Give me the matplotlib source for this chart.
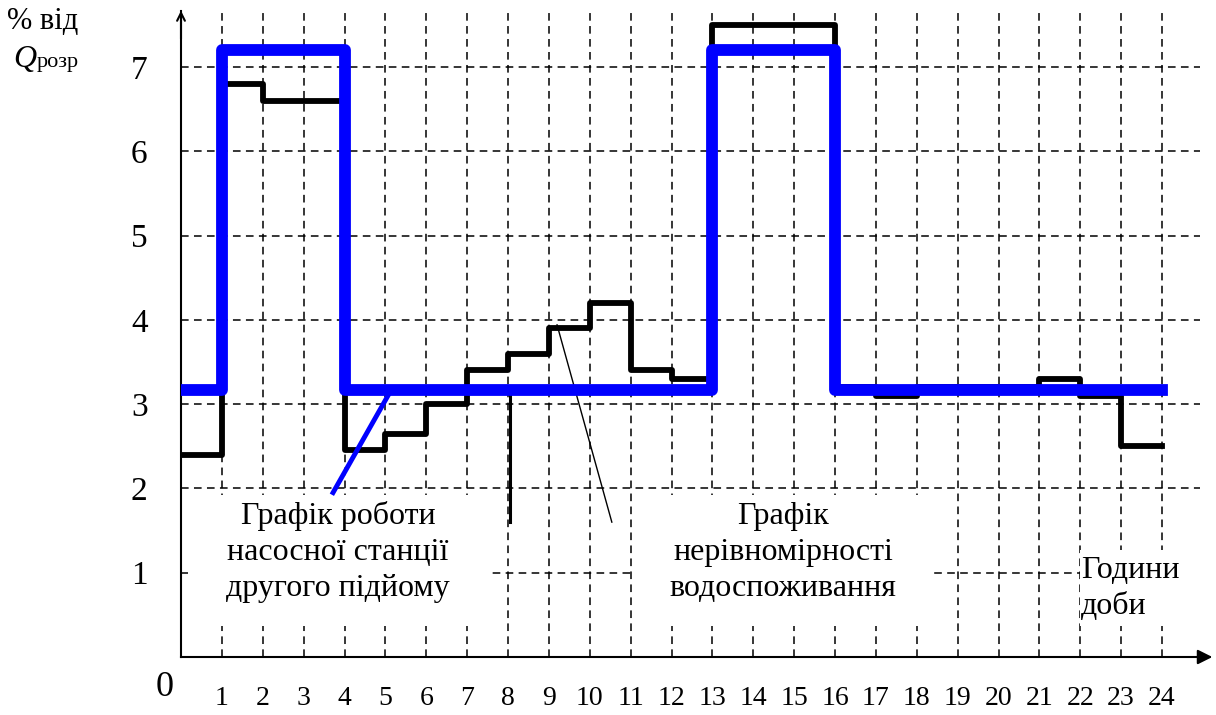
import numpy as np
import matplotlib
matplotlib.use("Agg")
import matplotlib.pyplot as plt
from matplotlib.patches import Rectangle

plt.rcParams['font.family'] = ['Liberation Serif', 'DejaVu Serif']

# ---------------- data ----------------
hours = np.arange(0, 25)                       # 0..24
hour_labels = [str(h) for h in range(1, 25)]
y_labels = [str(v) for v in range(1, 8)]

# water consumption (% of Q_розр) per hour
consumption = [2.4, 6.8, 6.6, 6.6, 2.45, 2.65, 3.0, 3.4, 3.6, 3.9, 4.2, 3.4,
               3.3, 7.5, 7.5, 7.5, 3.2, 3.1, 3.2, 3.2, 3.2, 3.3, 3.1, 2.5]
# pumping station (second lift) operation
pumping = [3.17, 7.2, 7.2, 7.2, 3.17, 3.17, 3.17, 3.17, 3.17, 3.17, 3.17, 3.17,
           3.17, 7.2, 7.2, 7.2, 3.17, 3.17, 3.17, 3.17, 3.17, 3.17, 3.17, 3.17]

# leader lines for the labels
blue_leader_x = [3.72, 5.11]
blue_leader_y = [1.95, 3.14]
black_leader1_x = [8.05, 8.05]
black_leader1_y = [3.17, 1.6]
black_leader2_x = [9.2, 10.54]
black_leader2_y = [3.94, 1.6]

# ---------------- figure ----------------
W, H = 1216, 715
fig = plt.figure(figsize=(W / 100, H / 100), dpi=100)
x0_px, y0_px = 181, 657
ux, uy = 40.875, 84.3
ax = fig.add_axes([x0_px / W, (H - y0_px) / H, (W - x0_px) / W, y0_px / H])
ax.set_xlim(0, (W - x0_px) / ux)
ax.set_ylim(0, y0_px / uy)

for s in ['top', 'right']:
    ax.spines[s].set_visible(False)
ax.spines['left'].set_linewidth(1.5)
ax.spines['bottom'].set_linewidth(1.5)
ax.spines['left'].set_bounds(0, 7.66)
ax.spines['bottom'].set_bounds(0, 25.1)

# arrows
ax.annotate('', xy=(0, 7.7), xytext=(0, 7.3),
            arrowprops=dict(arrowstyle='->', lw=1.5, color='black', mutation_scale=14),
            annotation_clip=False)
ax.annotate('', xy=(25.3, 0), xytext=(24.8, 0),
            arrowprops=dict(arrowstyle='-|>', lw=1.5, color='black', mutation_scale=22),
            annotation_clip=False)

# grid
dash = (0, (5, 3.5))
ax.vlines(hours[1:], 0, 7.67, colors='black', linestyles=[dash], linewidth=1.1, zorder=1)
ax.hlines(np.arange(1, 8), 0, 24.93, colors='black', linestyles=[dash], linewidth=1.1, zorder=1)

# white areas behind labels
for (bx0, bx1, by0, by1) in [(0.17, 7.51, 0.37, 1.92), (11.06, 18.4, 0.37, 1.92),
                              (22.0, 25.0, 0.37, 1.27)]:
    ax.add_patch(Rectangle((bx0, by0), bx1 - bx0, by1 - by0, facecolor='white',
                           edgecolor='none', zorder=1.5))

# data lines
ax.step(hours, consumption + [consumption[-1]], where='post', color='black',
        linewidth=4.2, zorder=3)
ax.step(hours, pumping + [pumping[-1]], where='post', color='#0000ff',
        linewidth=8.5, zorder=4)

# leaders
ax.plot(blue_leader_x, blue_leader_y, color='#0000ff', linewidth=3.5, zorder=4)
ax.plot(black_leader1_x, black_leader1_y, color='black', linewidth=2.2, zorder=3)
ax.plot(black_leader2_x, black_leader2_y, color='black', linewidth=1.0, zorder=3)

# ticks
ax.set_xticks(np.arange(1, 25))
ax.set_xticklabels(hour_labels, fontsize=20)
ax.set_yticks(np.arange(1, 8))
ax.set_yticklabels(y_labels, fontsize=24)
ax.tick_params(axis='x', length=0, pad=21)
ax.tick_params(axis='y', length=0, pad=24)

# labels
fs = 23
ax.text(3.84, 1.245, 'Графік роботи\nнасосної станції\nдругого підйому', ha='center',
        va='center', fontsize=fs, linespacing=1.32, zorder=5)
ax.text(14.73, 1.245, 'Графік\nнерівномірності\nводоспоживання', ha='center',
        va='center', fontsize=fs, linespacing=1.32, zorder=5)
ax.text(22.02, 0.807, 'Години\nдоби', ha='left', va='center', fontsize=fs,
        linespacing=1.32, zorder=5)

# origin label and axis title
fig.text(165 / W, 1 - 688 / H, '0', ha='center', va='center', fontsize=26)
fig.text(43 / W, 1 - 29 / H, '% від', ha='center', va='baseline', fontsize=22)
fig.text(13 / W, 1 - 67 / H, 'Q', ha='left', va='baseline', fontsize=23, style='italic')
fig.text(37 / W, 1 - 67 / H, 'розр', ha='left', va='baseline', fontsize=16)

fig.savefig('out.png', dpi=100)
